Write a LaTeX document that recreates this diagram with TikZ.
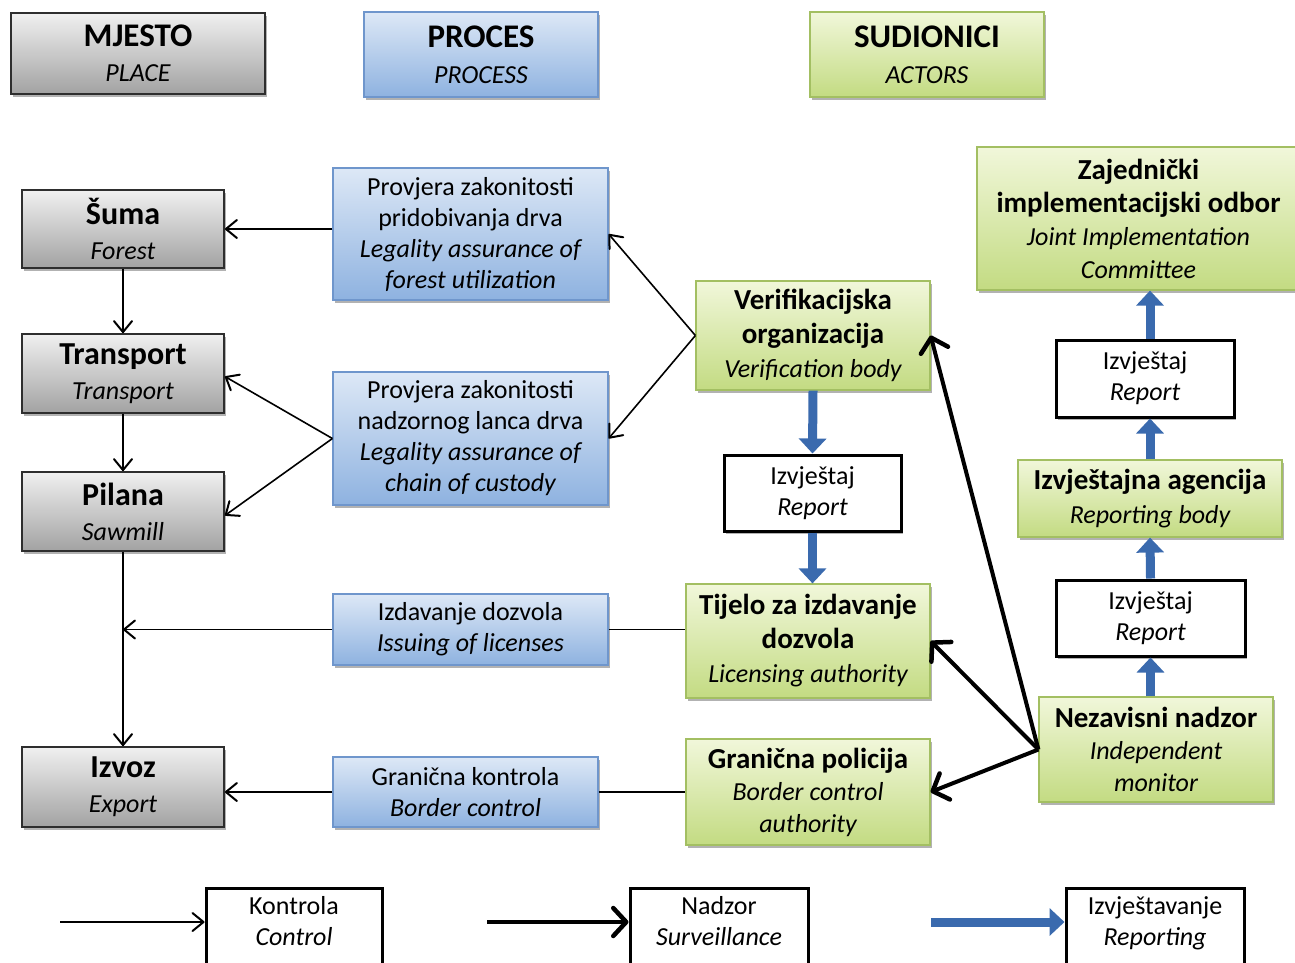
\documentclass[tikz,border=0pt]{standalone}
\usepackage{fontspec}
\setmainfont{Carlito}
\usetikzlibrary{arrows.meta,shadows}
\definecolor{grayT}{HTML}{F0F0F0}
\definecolor{grayB}{HTML}{A2A2A2}
\definecolor{grayD}{HTML}{2E2E2E}
\definecolor{blueT}{HTML}{DDE8F6}
\definecolor{blueB}{HTML}{8EB2E0}
\definecolor{blueD}{HTML}{6F96CC}
\definecolor{greenT}{HTML}{F1F7DA}
\definecolor{greenB}{HTML}{C3DB82}
\definecolor{greenD}{HTML}{A3BF62}
\definecolor{repblue}{HTML}{3A6AAE}
\newcommand\hdrf{\bfseries\fontsize{33}{36}\selectfont}
\newcommand\plf{\bfseries\fontsize{32}{36}\selectfont}
\newcommand\acf{\bfseries\fontsize{29}{34}\selectfont}
\newcommand\enf{\itshape\fontsize{26}{31}\selectfont}
\tikzset{
  base/.style={rectangle, inner sep=0pt, align=center, font=\fontsize{26}{31}\selectfont,
    drop shadow={shadow xshift=2pt, shadow yshift=-3pt, opacity=0.3, fill=black}},
  graybox/.style={base, draw=grayD, line width=1.8pt, top color=grayT, bottom color=grayB, font=\fontsize{26}{35}\selectfont},
  bluebox/.style={base, draw=blueD, line width=1.2pt, top color=blueT, bottom color=blueB},
  greenbox/.style={base, draw=greenD, line width=1.2pt, top color=greenT, bottom color=greenB, font=\fontsize{26}{34}\selectfont},
  whitebox/.style={base, draw=black, line width=3pt, fill=white},
  legtext/.style={anchor=north, align=center, font=\fontsize{26}{31}\selectfont},
  ctrl/.style={line width=1.6pt, -{Straight Barb[length=11pt,width=18pt,line width=2pt,round]}},
  ctrlline/.style={line width=1.6pt},
  surv/.style={line width=4pt, -{Straight Barb[length=13pt,width=28pt,line width=4.5pt,round]}},
  rep/.style={draw=repblue, line width=9pt, -{Triangle[length=15pt,width=27pt]}, color=repblue},
}
\begin{document}
\begin{tikzpicture}[x=1pt,y=-1pt]
\useasboundingbox (0,0) rectangle (1295,962);
\clip (0,0) rectangle (1295,962);
% headers
\node[graybox, minimum width=254pt, minimum height=81pt] (hplace) at (138,53.5) {\hdrf MJESTO\\ \enf PLACE};
\node[bluebox, minimum width=234pt, minimum height=85pt, font=\fontsize{26}{36}\selectfont] (hproc) at (481,54.5) {\hdrf PROCES\\ \enf PROCESS};
\node[greenbox, minimum width=234pt, minimum height=85pt, font=\fontsize{26}{36}\selectfont] (hact) at (927,54.5) {\hdrf SUDIONICI\\ \enf ACTORS};
% places
\node[graybox, minimum width=202pt, minimum height=78pt] (suma) at (123,229) {\plf Šuma\\ \enf Forest};
\node[graybox, minimum width=202pt, minimum height=79pt] (trans) at (123,373.5) {\plf Transport\\ \enf Transport};
\node[graybox, minimum width=202pt, minimum height=79pt] (pil) at (123,511.5) {\plf Pilana\\ \enf Sawmill};
\node[graybox, minimum width=202pt, minimum height=80pt] (izv) at (123,787) {\plf Izvoz\\ \enf Export};
% processes
\node[bluebox, minimum width=275pt, minimum height=132pt] (p1) at (470.5,234) {Provjera zakonitosti\\ pridobivanja drva\\ \enf Legality assurance of\\ \enf forest utilization};
\node[bluebox, minimum width=275pt, minimum height=133pt] (p2) at (470.5,438.5) {Provjera zakonitosti\\ nadzornog lanca drva\\ \enf Legality assurance of\\ \enf chain of custody};
\node[bluebox, minimum width=275pt, minimum height=71pt] (izd) at (470.5,629.5) {Izdavanje dozvola\\ \enf Issuing of licenses};
\node[bluebox, minimum width=265pt, minimum height=70pt] (gk) at (465.5,792) {Granična kontrola\\ \enf Border control};
% actors
\node[greenbox, minimum width=234pt, minimum height=109pt] (ver) at (813,335.5) {\acf Verifikacijska\\ \acf organizacija\\ \enf Verification body};
\node[whitebox, minimum width=177pt, minimum height=76pt] (rep1) at (812.5,493) {Izvještaj\\ \enf Report};
\node[greenbox, minimum width=244pt, minimum height=114pt] (tij) at (808,641) {\acf Tijelo za izdavanje\\ \acf dozvola\\ \enf Licensing authority};
\node[greenbox, minimum width=244pt, minimum height=106pt, font=\fontsize{26}{32}\selectfont] (gp) at (808,792) {\acf Granična policija\\ \enf Border control\\ \enf authority};
\node[greenbox, minimum width=323pt, minimum height=143pt, font=\fontsize{26}{33}\selectfont] (jic) at (1138.5,218.5) {\acf Zajednički\\ \acf implementacijski odbor\\ \enf Joint Implementation\\ \enf Committee};
\node[whitebox, minimum width=178pt, minimum height=77pt] (rep2) at (1145,378.5) {Izvještaj\\ \enf Report};
\node[greenbox, minimum width=264pt, minimum height=77pt] (agc) at (1150,498.5) {\acf Izvještajna agencija\\ \enf Reporting body};
\node[whitebox, minimum width=189pt, minimum height=76pt] (rep3) at (1150.5,618) {Izvještaj\\ \enf Report};
\node[greenbox, minimum width=234pt, minimum height=105pt, font=\fontsize{26}{32}\selectfont] (nez) at (1156,749.5) {\acf Nezavisni nadzor\\ \enf Independent\\ \enf monitor};
% legend
\node[whitebox, minimum width=176pt, minimum height=100pt, anchor=north] (lk) at (294,887) {};
\node[legtext] (lkt) at (294,893) {Kontrola\\ \enf Control};
\node[whitebox, minimum width=178pt, minimum height=100pt, anchor=north] (ln) at (719,887) {};
\node[legtext] (lnt) at (719,893) {Nadzor\\ \enf Surveillance};
\node[whitebox, minimum width=178pt, minimum height=100pt, anchor=north] (lr) at (1155,887) {};
\node[legtext] (lrt) at (1155,893) {Izvještavanje\\ \enf Reporting};
\coordinate (lka) at (60,922);
\coordinate (lna) at (487,922);
\coordinate (lra) at (931,922);
% control arrows
\draw[ctrl] (suma.east -| p1.west) -- (suma.east);
\draw[ctrl] (suma.south) -- (trans.north);
\draw[ctrl] (trans.south) -- (pil.north);
\draw[ctrl] (pil.south) -- (izv.north);
\draw[ctrl] (izd.west) -- (izd.west -| pil.south);
\draw[ctrlline] (izd.east) -- (izd.east -| tij.west);
\draw[ctrl] (gk.west) -- (gk.west -| izv.east);
\draw[ctrlline] (gk.east) -- (gk.east -| gp.west);
\draw[ctrl] (p2.west) -- ([yshift=-3pt]trans.east);
\draw[ctrl] (p2.west) -- ([yshift=-4pt]pil.east);
\draw[ctrl] (ver.west) -- (p1.east);
\draw[ctrl] (ver.west) -- (p2.east);
% surveillance
\draw[surv] (nez.west) -- (ver.east);
\draw[surv] (nez.west) -- (tij.east);
\draw[surv] (nez.west) -- (gp.east);
% reporting
\draw[rep] (ver.south) -- (rep1.north);
\draw[rep] (rep1.south) -- (tij.north -| rep1.south);
\draw[rep] (nez.north -| rep3.south) -- (rep3.south);
\draw[rep] (rep3.north) -- (agc.south);
\draw[rep] (agc.north) -- (agc.north |- rep2.south);
\draw[rep] (agc.north |- rep2.north) -- (agc.north |- jic.south);
% legend arrows
\draw[ctrl] (lka) -- (lka -| lk.west);
\draw[surv] (lna) -- (lna -| ln.west);
\draw[rep] (lra) -- (lra -| lr.west);
\end{tikzpicture}
\end{document}
